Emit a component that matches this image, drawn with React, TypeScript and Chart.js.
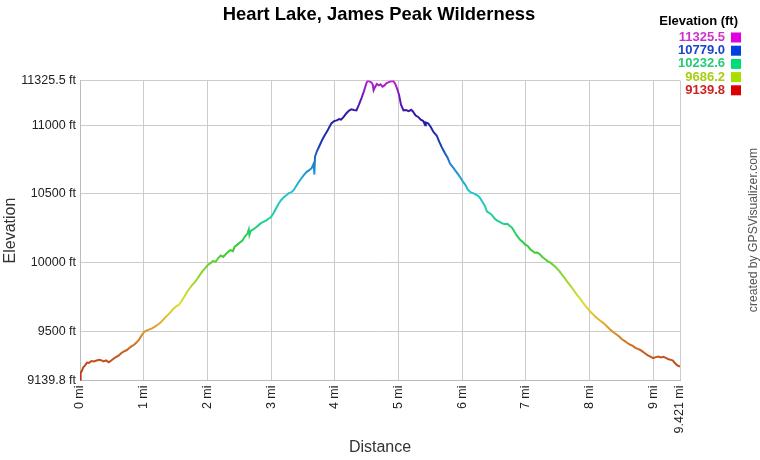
import React, { useEffect, useRef } from "react";
import { Chart, registerables } from "chart.js";

Chart.register(...registerables);

const TITLE = "Heart Lake, James Peak Wilderness";
const CREDIT = "created by GPSVisualizer.com";

const distances = [
  0.0, 0.01, 0.03, 0.05, 0.08, 0.11, 0.14, 0.18, 0.22, 0.26, 0.3, 0.33, 0.37, 0.41, 0.45, 0.49,
  0.53, 0.57, 0.61, 0.65, 0.69, 0.73, 0.77, 0.81, 0.85, 0.89, 0.93, 0.97, 1.01, 1.05, 1.09, 1.13,
  1.17, 1.22, 1.26, 1.3, 1.34, 1.38, 1.43, 1.47, 1.51, 1.55, 1.59, 1.64, 1.68, 1.72, 1.76, 1.8,
  1.85, 1.89, 1.93, 1.97, 2.01, 2.05, 2.09, 2.13, 2.17, 2.21, 2.25, 2.28, 2.32, 2.36, 2.4, 2.43,
  2.47, 2.51, 2.55, 2.59, 2.63, 2.65, 2.66, 2.68, 2.72, 2.76, 2.8, 2.84, 2.88, 2.92, 2.96, 3.0,
  3.04, 3.08, 3.12, 3.16, 3.2, 3.24, 3.28, 3.32, 3.36, 3.4, 3.44, 3.48, 3.52, 3.56, 3.6, 3.64,
  3.67, 3.68, 3.69, 3.72, 3.76, 3.8, 3.84, 3.88, 3.92, 3.95, 3.99, 4.03, 4.07, 4.1, 4.14, 4.18,
  4.22, 4.26, 4.3, 4.34, 4.38, 4.42, 4.46, 4.5, 4.52, 4.55, 4.58, 4.6, 4.61, 4.63, 4.66, 4.69,
  4.72, 4.75, 4.78, 4.81, 4.84, 4.88, 4.92, 4.95, 4.98, 5.01, 5.04, 5.08, 5.12, 5.16, 5.2, 5.23,
  5.27, 5.31, 5.35, 5.39, 5.42, 5.43, 5.47, 5.51, 5.55, 5.6, 5.64, 5.68, 5.73, 5.77, 5.81, 5.86,
  5.9, 5.94, 5.97, 6.01, 6.05, 6.09, 6.13, 6.17, 6.21, 6.25, 6.28, 6.32, 6.36, 6.39, 6.43, 6.47,
  6.51, 6.55, 6.59, 6.63, 6.67, 6.71, 6.75, 6.78, 6.82, 6.86, 6.91, 6.95, 6.99, 7.03, 7.07, 7.1,
  7.14, 7.18, 7.22, 7.26, 7.3, 7.34, 7.38, 7.42, 7.46, 7.49, 7.53, 7.57, 7.61, 7.65, 7.69, 7.73,
  7.77, 7.81, 7.85, 7.9, 7.94, 7.98, 8.01, 8.05, 8.09, 8.13, 8.17, 8.22, 8.26, 8.3, 8.34, 8.38,
  8.43, 8.47, 8.51, 8.55, 8.59, 8.64, 8.68, 8.72, 8.76, 8.79, 8.83, 8.87, 8.91, 8.95, 9.0, 9.04,
  9.08, 9.12, 9.16, 9.2, 9.24, 9.28, 9.31, 9.34, 9.38, 9.421,
];

const elevations = [
  9140, 9195, 9210, 9235, 9250, 9270, 9268, 9282, 9278, 9285, 9290, 9288, 9279, 9286, 9272, 9285,
  9300, 9312, 9322, 9340, 9352, 9360, 9375, 9390, 9400, 9418, 9440, 9470, 9495, 9505, 9512, 9520,
  9530, 9546, 9560, 9580, 9600, 9618, 9642, 9665, 9680, 9690, 9715, 9752, 9785, 9810, 9835, 9855,
  9886, 9915, 9940, 9960, 9983, 9995, 10010, 10005, 10032, 10050, 10040, 10056, 10075, 10090, 10082, 10116,
  10130, 10145, 10160, 10189, 10210, 10240, 10200, 10230, 10240, 10255, 10270, 10286, 10295, 10305, 10318, 10330,
  10360, 10395, 10430, 10455, 10475, 10490, 10505, 10512, 10530, 10560, 10590, 10615, 10640, 10660, 10672, 10688,
  10720, 10640, 10770, 10810, 10850, 10890, 10925, 10955, 10990, 11015, 11030, 11035, 11045, 11040, 11060, 11085,
  11105, 11115, 11110, 11108, 11150, 11197, 11250, 11310, 11325, 11318, 11310, 11290, 11255, 11275, 11300, 11290,
  11298, 11280, 11290, 11305, 11312, 11320, 11322, 11300, 11265, 11220, 11150, 11108, 11110, 11102, 11112, 11098,
  11070, 11060, 11040, 11030, 11000, 11020, 11012, 10985, 10950, 10925, 10880, 10840, 10796, 10765, 10720, 10690,
  10665, 10640, 10620, 10590, 10565, 10530, 10512, 10505, 10495, 10485, 10470, 10440, 10410, 10370, 10360, 10345,
  10320, 10305, 10295, 10285, 10278, 10282, 10265, 10255, 10225, 10195, 10165, 10150, 10130, 10120, 10095, 10085,
  10070, 10072, 10060, 10040, 10025, 10010, 10000, 9985, 9970, 9955, 9935, 9910, 9885, 9860, 9837, 9812,
  9785, 9760, 9738, 9706, 9682, 9660, 9642, 9625, 9605, 9590, 9575, 9558, 9540, 9522, 9505, 9490,
  9473, 9458, 9440, 9428, 9415, 9400, 9392, 9378, 9370, 9364, 9352, 9338, 9325, 9315, 9303, 9310,
  9315, 9308, 9312, 9305, 9295, 9290, 9285, 9267, 9250, 9241,
];

const yMin = 9139.8;
const yMax = 11325.5;
const yTicks = [9139.8, 9500, 10000, 10500, 11000, 11325.5];
const xTicks = [0, 1, 2, 3, 4, 5, 6, 7, 8, 9, 9.421];

const legendValues = ["11325.5", "10779.0", "10232.6", "9686.2", "9139.8"];
const legendTextColors = ["#cc33cc", "#1a44cc", "#22cc77", "#aacc11", "#cc2222"];
const legendBoxColors = ["#e000e0", "#0040e0", "#00dd77", "#aadd00", "#dd0000"];

const gradElev = [9139.8, 9350, 9550, 9700, 9900, 10100, 10300, 10500, 10700, 10850, 11050, 11200, 11325.5];
const gradColors = [
  "#b8301c", "#c4601e", "#e0a830", "#dede30", "#90d830", "#30cc30", "#20d090",
  "#20c8d0", "#2088cc", "#1840b0", "#2818a8", "#6a18b8", "#c020d0",
];

const FONT = "'Liberation Sans', Arial, sans-serif";

const overlayPlugin = {
  id: "overlay",
  afterDraw(chart: any) {
    const c = chart.ctx;
    c.save();
    c.fillStyle = "#000";
    c.font = `bold 18.4px ${FONT}`;
    c.textAlign = "center";
    c.textBaseline = "middle";
    c.fillText(TITLE, 379, 15);

    c.font = `bold 13px ${FONT}`;
    c.textAlign = "right";
    c.fillText("Elevation (ft)", 738, 21);
    c.font = `bold 13px ${FONT}`;
    for (let i = 0; i < legendValues.length; i++) {
      const y = 37.5 + i * 13.2;
      c.fillStyle = legendTextColors[i];
      c.fillText(legendValues[i], 725, y);
      c.fillStyle = legendBoxColors[i];
      c.fillRect(731, y - 5, 10, 10);
    }

    c.translate(754, 230);
    c.rotate(-Math.PI / 2);
    c.fillStyle = "#555";
    c.font = `12.2px ${FONT}`;
    c.textAlign = "center";
    c.fillText(CREDIT, 0, 0);
    c.restore();
  },
};

export default function App() {
  const ref = useRef<HTMLCanvasElement>(null);
  useEffect(() => {
    if (!ref.current) return;
    const points = distances.map((d, i) => ({ x: d, y: elevations[i] }));
    const chart = new Chart(ref.current, {
      type: "line",
      data: {
        datasets: [
          {
            data: points,
            borderWidth: 2,
            pointRadius: 0,
            tension: 0,
            fill: false,
            borderColor: (ctx: any) => {
              const ch = ctx.chart;
              const { chartArea, scales } = ch;
              if (!chartArea || !scales.y) return "#c02020";
              const y0 = scales.y.getPixelForValue(yMin);
              const y1 = scales.y.getPixelForValue(yMax);
              const g = ch.ctx.createLinearGradient(0, y0, 0, y1);
              gradElev.forEach((e, i) => {
                g.addColorStop((e - yMin) / (yMax - yMin), gradColors[i]);
              });
              return g;
            },
          },
        ],
      },
      options: {
        animation: false,
        responsive: false,
        devicePixelRatio: 1,
        layout: { padding: { left: 0, right: 80, top: 80.5, bottom: 0 } },
        plugins: { legend: { display: false }, title: { display: false }, tooltip: { enabled: false } },
        scales: {
          x: {
            type: "linear",
            min: 0,
            max: 9.421,
            afterBuildTicks: (s: any) => {
              s.ticks = xTicks.map((v) => ({ value: v }));
            },
            afterFit: (s: any) => {
              s.height = 79.5;
            },
            grid: { color: "#cccccc", drawTicks: false },
            border: { color: "#bbbbbb" },
            ticks: {
              autoSkip: false,
              minRotation: 90,
              maxRotation: 90,
              padding: 5,
              color: "#222",
              font: { family: FONT, size: 12.5 },
              callback: (v: any) => `${v} mi`,
            },
            title: {
              display: true,
              text: "Distance",
              color: "#333",
              font: { family: FONT, size: 16 },
              padding: { top: 0, bottom: 3 },
            },
          },
          y: {
            type: "linear",
            min: yMin,
            max: yMax,
            afterBuildTicks: (s: any) => {
              s.ticks = yTicks.map((v) => ({ value: v }));
            },
            afterFit: (s: any) => {
              s.width = 80;
            },
            grid: { color: "#cccccc", drawTicks: false },
            border: { color: "#bbbbbb" },
            ticks: {
              autoSkip: false,
              padding: 4,
              color: "#222",
              font: { family: FONT, size: 12.5 },
              callback: (v: any) => `${v} ft`,
            },
            title: {
              display: true,
              text: "Elevation",
              color: "#333",
              font: { family: FONT, size: 16 },
              padding: { top: 1, bottom: 0 },
            },
          },
        },
      },
      plugins: [overlayPlugin],
    });
    return () => chart.destroy();
  }, []);
  return (
    <div style={{ position: "absolute", left: 0, top: 0, width: 760, height: 460, background: "#fff" }}>
      <canvas ref={ref} width={760} height={460} style={{ width: 760, height: 460 }} />
    </div>
  );
}
